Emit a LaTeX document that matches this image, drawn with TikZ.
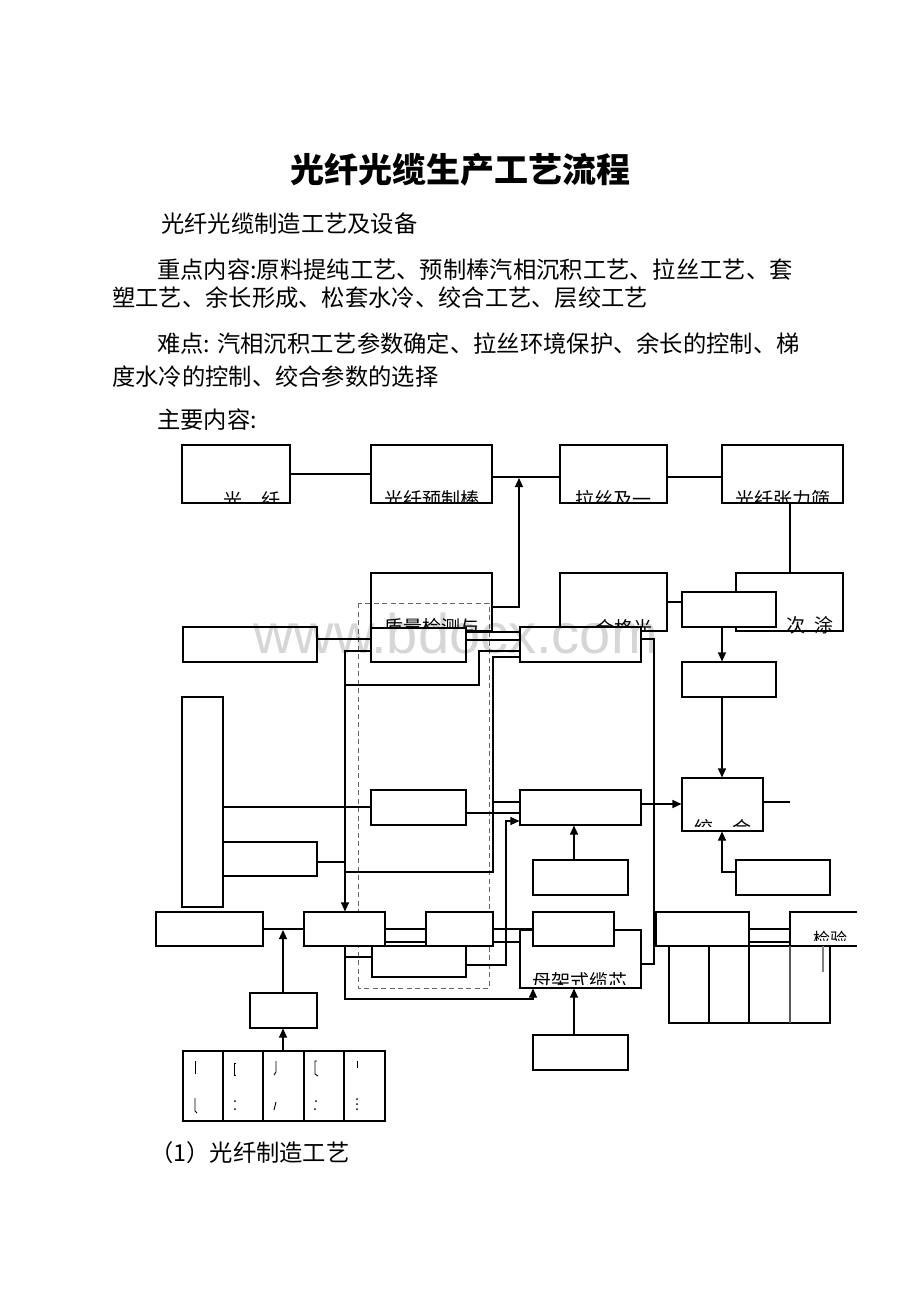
\documentclass[tikz,border=0pt]{standalone}
\usepackage{fontspec}
\setmainfont{Noto Sans CJK SC}
\newfontfamily\wmfont{Liberation Sans}
\usetikzlibrary{arrows.meta}
\newcommand{\mkbox}[5]{\node[bx,minimum width={(#4-#2)*1pt},minimum height={(#5-#3)*1pt}] (#1) at ({(#2+#4)/2},{(#3+#5)/2}) {};}
\newcommand{\cliplabel}[8]{\begin{scope}\clip (#2,#3) rectangle (#4,#5); \node[lbl] (#1) at (#6,#7) {#8};\end{scope}}
\begin{document}
\begin{tikzpicture}[x=1pt,y=-1pt,
  bx/.style={draw, fill=white, line width=1.1pt, inner sep=0pt},
  ln/.style={line width=1.1pt},
  ar/.style={line width=1.1pt, -{Triangle[length=9pt,width=8pt]}},
  body/.style={anchor=west, inner sep=0pt, font=\fontsize{23.3}{28}\selectfont},
  lbl/.style={anchor=base, inner sep=0pt, font=\fontsize{19}{22}\selectfont},
  frag/.style={line width=0.9pt}]
\useasboundingbox (0,0) rectangle (920,1302);
\fill[white] (0,0) rectangle (920,1302);

% ---------- text ----------
\node[inner sep=0pt, font=\fontsize{34}{40}\selectfont\bfseries] (title) at (460,170) {光纤光缆生产工艺流程};
\node[body] (t1) at (161,224) {光纤光缆制造工艺及设备};
\node[body] (t2) at (157,270) {重点内容:原料提纯工艺、预制棒汽相沉积工艺、拉丝工艺、套};
\node[body] (t3) at (112,298) {塑工艺、余长形成、松套水冷、绞合工艺、层绞工艺};
\node[body] (t4) at (157,344) {难点: 汽相沉积工艺参数确定、拉丝环境保护、余长的控制、梯};
\node[body] (t5) at (112,377) {度水冷的控制、绞合参数的选择};
\node[body] (t6) at (157,420) {主要内容:};
\node[body] (t7) at (150,1153) {（1）光纤制造工艺};

% ---------- first layer boxes ----------
\mkbox{A}{182}{445}{290}{503}
\mkbox{B}{371}{445}{492}{503}
\mkbox{C}{560}{445}{667}{503}
\mkbox{D}{722}{445}{843}{503}
\cliplabel{lA}{182}{445}{290}{503}{252}{507}{光　纤}
\cliplabel{lB}{371}{445}{492}{502}{432}{506}{光纤预制棒}
\cliplabel{lC}{560}{445}{667}{502}{613}{506}{拉丝及一}
\cliplabel{lD}{722}{445}{843}{502}{783}{506}{光纤张力筛}

\mkbox{E}{371}{573}{492}{631}
\mkbox{F}{560}{573}{667}{631}
\mkbox{G}{736}{573}{843}{631}
\cliplabel{lE}{371}{573}{492}{630}{432}{634}{质量检测与}
\cliplabel{lF}{560}{573}{667}{629}{624}{635}{合格光}
\node[lbl] (lG) at (810,632) {次\hspace{9pt}涂};

% dashed frame
\draw[line width=1pt, dashed, dash pattern=on 5pt off 3.5pt, gray!80!black] (358,603) rectangle (489,988);

% ---------- remaining boxes ----------
\mkbox{H}{682}{592}{776}{627}
\mkbox{I}{682}{662}{776}{697}
\mkbox{J}{682}{778}{763}{831}
\cliplabel{lJ}{682}{778}{763}{826}{723}{835}{绞　合}
\mkbox{K}{736}{860}{830}{895}
\mkbox{L}{183}{627}{317}{662}
\mkbox{M}{371}{628}{466}{662}
\mkbox{N}{520}{627}{641}{662}
\mkbox{O}{182}{697}{223}{907}
\mkbox{P}{223}{842}{317}{876}
\mkbox{Q}{371}{790}{466}{825}
\mkbox{R}{520}{790}{641}{825}
\mkbox{U}{533}{860}{628}{895}
\mkbox{V}{156}{912}{263}{946}
\mkbox{W}{304}{912}{385}{946}
\mkbox{Y}{426}{912}{493}{946}
\mkbox{Z}{372}{946}{466}{977}
\mkbox{MJ}{520}{930}{641}{988}
\cliplabel{lMJ}{520}{930}{641}{984}{580}{988}{母架式缆芯}
\mkbox{T}{533}{912}{614}{946}
\mkbox{S}{656}{912}{749}{946}
\mkbox{X}{250}{993}{317}{1028}
\mkbox{AA}{533}{1035}{628}{1070}
% inspection box (open on the right)
\draw[ln] (857,912) -- (790,912) -- (790,946) -- (857,946);
\coordinate (JYw) at (790,929);
\begin{scope}\clip (790,912) rectangle (857,940);
\node[lbl, font=\fontsize{17}{20}\selectfont] (lJY) at (830,945) {检验};
\end{scope}

% bottom right grid
\mkbox{GR}{669}{946}{830}{1023}
\draw[ln] (709,946) -- (709,1023);
\draw[ln] (749,946) -- (749,1023);
\draw[ln, gray!70!black] (790,946) -- (790,1023);
\draw[gray, line width=1.2pt] (823,946) -- (823,972);

% bottom left grid
\mkbox{GL}{183}{1051}{385}{1121}
\foreach \xx in {223,263,304,344} \draw[ln] (\xx,1051) -- (\xx,1121);
% garbled fragments inside the grid
\draw[frag] (195,1061) -- (195,1074);
\draw[frag] (195,1098) -- (195,1111) -- (197,1113);
\draw[frag] (236,1063) -- (234,1063) -- (234,1075) -- (236,1075);
\fill (235,1101) circle (1pt) (235,1109) circle (1pt);
\draw[frag] (276,1061) -- (276,1072) -- (274,1075);
\draw[frag] (276,1102) -- (274,1110);
\draw[frag] (317,1061) -- (315,1061) -- (315,1074) -- (318,1076);
\fill (316,1101) circle (1pt) (315,1109) circle (1pt);
\draw[frag] (357,1061) -- (357,1068);
\fill (357,1099) circle (1pt) (357,1104) circle (1pt) (357,1109) circle (1pt);

% ---------- connectors ----------
\draw[ln] (A.east |- 0,474) -- (B.west |- 0,474);
\draw[ln] (B.east |- 0,477) -- (C.west |- 0,477);
\coordinate (e1) at (519,607);
\draw[ar] (E.east |- e1) -- (e1) -- (519,478);
\draw[ln] (C.east |- 0,477) -- (D.west |- 0,477);
\draw[ln] (D.south -| 790,0) -- (G.north -| 790,0);
\draw[ln] (F.east |- 0,602) -- (H.west |- 0,602);
\draw[ar] (H.south -| 722,0) -- (I.north -| 722,0);
\draw[ar] (I.south -| 722,0) -- (J.north -| 722,0);
\coordinate (jout) at (790,802);
\draw[ln] (J.east |- jout) -- (jout);
\coordinate (k1) at (722,872);
\draw[ar] (K.west |- k1) -- (k1) -- (J.south -| k1);

\draw[ln] (L.east |- 0,639) -- (M.west |- 0,639);
\draw[ln] (M.east |- 0,632) -- (N.west |- 0,632);
\draw[ln] (M.east |- 0,640) -- (N.west |- 0,640);
\coordinate (m1) at (345,651);
\draw[ar] (M.west |- m1) -- (m1) -- (W.north -| m1);
\coordinate (m2) at (345,685);
\coordinate (m3) at (479,685);
\draw[ln] (m2) -- (m3) -- (479,651) -- (N.west |- 0,651);
\coordinate (v1) at (493,657);
\draw[ln] (N.west |- v1) -- (v1) -- (493,872) -- (345,872);
\draw[ln] (493,802) -- (R.west |- 0,802);
\draw[ln] (O.east |- 0,807) -- (Q.west |- 0,807);
\draw[ln] (P.east |- 0,862) -- (345,862);
\draw[ln] (Q.east |- 0,813) -- (R.west |- 0,813);
\draw[ar] (R.east |- 0,804) -- (J.west |- 0,804);
\draw[ar] (U.north -| 574,0) -- (R.south -| 574,0);
\coordinate (n1) at (654,639);
\draw[ln] (N.east |- n1) -- (n1) -- (654,964) -- (MJ.east |- 0,964);
\draw[ln] (654,929) -- (S.west |- 0,929);

\draw[ln] (V.east |- 0,929) -- (W.west |- 0,929);
\draw[ar] (X.north -| 283,0) -- (283,930);
\draw[ln] (W.east |- 0,929) -- (Y.west |- 0,929);
\draw[ln] (W.east |- 0,942) -- (Y.west |- 0,942);
\draw[ln] (Y.east |- 0,929) -- (T.west |- 0,929);
\draw[ln] (Y.east |- 0,942) -- (MJ.west |- 0,942);
\coordinate (w1) at (345,999);
\draw[ar] (W.south -| w1) -- (w1) -- (533,999) -- (MJ.south -| 533,0);
\draw[ln] (345,957) -- (Z.west |- 0,957);
\coordinate (z1) at (506,965);
\draw[ar] (Z.east |- z1) -- (z1) -- (506,821) -- (R.west |- 0,821);
\draw[ar] (AA.north -| 574,0) -- (MJ.south -| 574,0);
\draw[ln] (S.east |- 0,929) -- (JYw);
\draw[ln] (S.east |- 0,942) -- (790,942);
\draw[ar] (GL.north -| 283,0) -- (X.south -| 283,0);

% watermark
\node[anchor=base west, inner sep=0pt, opacity=0.16, font=\wmfont\fontsize{56}{60}\selectfont] (wm) at (253,653) {www.bdocx.com};
\end{tikzpicture}
\end{document}
